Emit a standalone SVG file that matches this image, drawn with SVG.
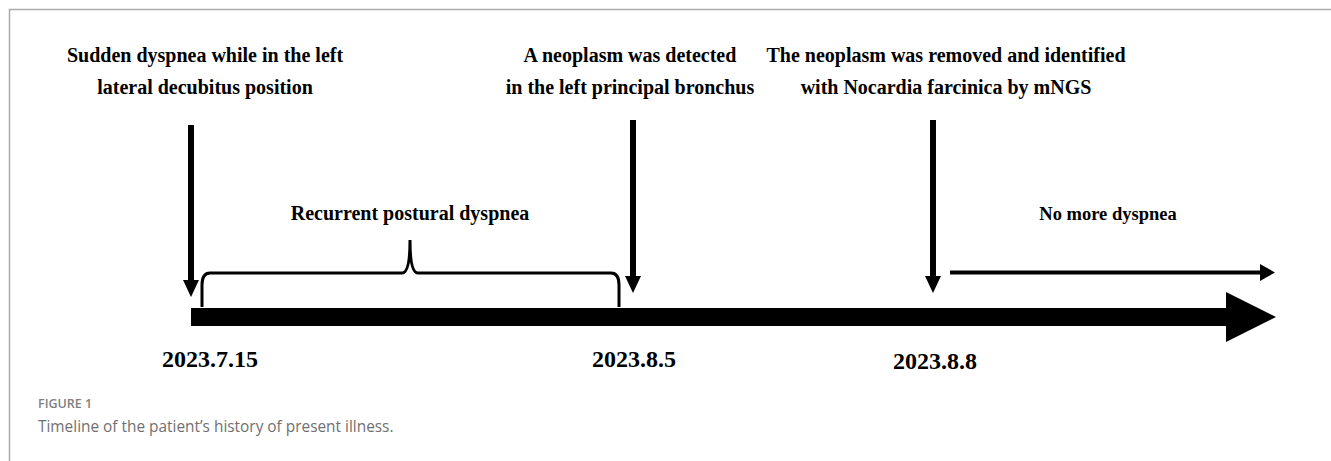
<svg xmlns="http://www.w3.org/2000/svg" width="1331" height="461" viewBox="0 0 1331 461">
<style>
.lbl{font-family:"Liberation Serif","Times New Roman",serif;font-weight:bold;font-size:20px;fill:#000;text-anchor:middle}
.date{font-family:"Liberation Serif","Times New Roman",serif;font-weight:bold;font-size:24px;fill:#000}
.cap1{font-family:"Open Sans","Noto Sans",sans-serif;font-size:12.5px;font-weight:600;fill:#808080}
.cap2{font-family:"Open Sans","Noto Sans",sans-serif;font-size:15.4px;fill:#707070}
.shaft{stroke:#000;stroke-width:6;fill:none}
.head{fill:#000}
</style>
<rect width="1331" height="461" fill="#fff"/>
<path d="M9.5 461 V9.5 H1331" fill="none" stroke="#aaa" stroke-width="1.5"/>

<g id="timeline">
<rect x="191" y="308" width="1036" height="18" fill="#000"/>
<polygon points="1226,292 1276,317 1226,342" fill="#000"/>
</g>

<g id="connectors">
<line class="shaft" x1="191" y1="125" x2="191" y2="282"/>
<polygon class="head" points="183,280 199,280 191,297"/>
<line class="shaft" x1="633" y1="120" x2="633" y2="278"/>
<polygon class="head" points="625,276 641,276 633,293"/>
<line class="shaft" x1="933" y1="120" x2="933" y2="278"/>
<polygon class="head" points="925,276 941,276 933,293"/>
<line x1="950" y1="272.5" x2="1262" y2="272.5" stroke="#000" stroke-width="4"/>
<polygon class="head" points="1260,264 1275,272.5 1260,281"/>
<path d="M202 307 V285 Q202 273 210 273 H402 Q410 273 410 240 Q410 273 418 273 H611 Q619 273 619 285 V307" fill="none" stroke="#000" stroke-width="3"/>
</g>

<g id="event1">
<text class="lbl" x="205" y="62">Sudden dyspnea while in the left</text>
<text class="lbl" x="205" y="94">lateral decubitus position</text>
</g>
<g id="event2">
<text class="lbl" x="630" y="62">A neoplasm was detected</text>
<text class="lbl" x="630" y="94">in the left principal bronchus</text>
</g>
<g id="event3">
<text class="lbl" x="946" y="62">The neoplasm was removed and identified</text>
<text class="lbl" x="946" y="94">with Nocardia farcinica by mNGS</text>
</g>
<g id="period1">
<text class="lbl" x="410" y="220">Recurrent postural dyspnea</text>
</g>
<g id="period2">
<text class="lbl" x="1108" y="220" style="font-size:18.5px">No more dyspnea</text>
</g>
<g id="dates">
<text class="date" x="162" y="367">2023.7.15</text>
<text class="date" x="592" y="367">2023.8.5</text>
<text class="date" x="893" y="369">2023.8.8</text>
</g>
<g id="caption">
<text class="cap1" x="38" y="408">FIGURE 1</text>
<text class="cap2" x="38" y="432">Timeline of the patient’s history of present illness.</text>
</g>
</svg>
